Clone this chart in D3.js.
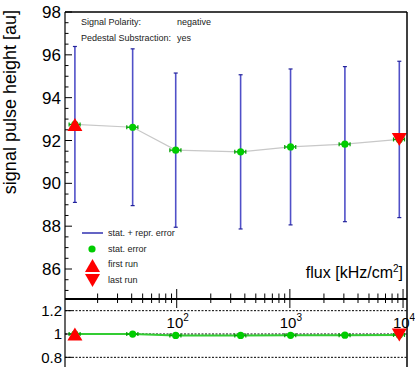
<!DOCTYPE html>
<html>
<head>
<meta charset="utf-8">
<script src="https://cdn.jsdelivr.net/npm/d3@7"></script>
<style>
  body { margin: 0; background: #fff; }
  text { font-family: "Liberation Sans", Arial, sans-serif; }
</style>
</head>
<body>
<div id="chart"></div>
<script>
// flux points and their (x) bin errors in kHz/cm2
var flux = [12.6, 40.8, 98, 367, 1014, 3064, 9270];
var fluxErr = [1.4, 4.6, 11, 41, 113, 340, 1030];
// signal pulse height and stat + repr. error
var pulse = [92.75, 92.62, 91.55, 91.47, 91.70, 91.83, 92.05];
var pulseErr = [3.64, 3.66, 3.60, 3.60, 3.64, 3.62, 3.65];
// ratio to the first run
var ratio = [1.0, 0.999, 0.988, 0.988, 0.989, 0.990, 0.992];
var ratioErr = [0.025, 0.025, 0.025, 0.025, 0.025, 0.025, 0.025];
var yTicks = [86, 88, 90, 92, 94, 96, 98];
var ratioTicks = [0.8, 1, 1.2];
var xMajor = [100, 1000, 10000];
var infoLabels = ["Signal Polarity:", "Pedestal Substraction:"];
var infoValues = ["negative", "yes"];

var width = 415, height = 367;
var padLeft = 65, padRight = 407, padTop = 12, mainBottom = 299;

var svg = d3.select("#chart").append("svg")
    .attr("width", width)
    .attr("height", height);

var x = d3.scaleLog().domain([10.3, 10840]).range([padLeft, padRight]);
var y = d3.scaleLinear().domain([84.6, 98]).range([mainBottom, padTop]);
var yr = d3.scaleLinear().domain([0.7, 1.3]).range([369, mainBottom]);

var blue = "#5050c8", green = "#00cc00", red = "#ff0000";

// ---- main pad ----
var main = svg.append("g");

// y axis with ticks pointing inwards
main.append("line").attr("x1", padLeft).attr("x2", padLeft).attr("y1", padTop).attr("y2", mainBottom)
    .attr("stroke", "#000").attr("stroke-width", 1.2);
d3.range(85, 98.01, 0.5).forEach(function (v) {
    var major = v % 2 === 0;
    main.append("line")
        .attr("x1", padLeft).attr("x2", padLeft + (major ? 7 : 3.5))
        .attr("y1", y(v)).attr("y2", y(v))
        .attr("stroke", "#000");
});
yTicks.forEach(function (v) {
    main.append("text").attr("x", 61).attr("y", y(v)).attr("dy", "0.36em")
        .attr("text-anchor", "end").style("font-size", "17px").text(v);
});

// frame
main.append("line").attr("x1", padLeft).attr("x2", padRight).attr("y1", padTop).attr("y2", padTop)
    .attr("stroke", "#000").attr("stroke-width", 1.5);
svg.append("line").attr("x1", padRight).attr("x2", padRight).attr("y1", padTop).attr("y2", height)
    .attr("stroke", "#000").attr("stroke-width", 1.5);

// y title
svg.append("text")
    .attr("transform", "translate(16," + (padTop - 2) + ") rotate(-90)")
    .attr("text-anchor", "end")
    .style("font-size", "18px")
    .text("signal pulse height [au]");

// info text
infoLabels.forEach(function (t, i) {
    main.append("text").attr("x", 81).attr("y", 25 + i * 15.5)
        .style("font-size", "9px").attr("fill", "#222").text(t);
    main.append("text").attr("x", 177).attr("y", 25 + i * 15.5)
        .style("font-size", "9px").attr("fill", "#222").text(infoValues[i]);
});

// connecting line
var line = d3.line().x(function (d, i) { return x(flux[i]); }).y(function (d) { return y(d); });
main.append("path").attr("d", line(pulse)).attr("fill", "none")
    .attr("stroke", "#c8c8c8").attr("stroke-width", 1.2);

// blue error bars
pulse.forEach(function (v, i) {
    var px = x(flux[i]);
    main.append("line").attr("x1", px).attr("x2", px)
        .attr("y1", y(v - pulseErr[i])).attr("y2", y(v + pulseErr[i]))
        .attr("stroke", blue).attr("stroke-width", 1.6);
    [v - pulseErr[i], v + pulseErr[i]].forEach(function (e) {
        main.append("line").attr("x1", px - 2).attr("x2", px + 2)
            .attr("y1", y(e)).attr("y2", y(e))
            .attr("stroke", "#22229a").attr("stroke-width", 1.2);
    });
});

// green points with x errors
function drawPoints(g, vals, ys) {
    vals.forEach(function (v, i) {
        var py = ys(v);
        var x0 = x(flux[i] - fluxErr[i]), x1 = x(flux[i] + fluxErr[i]);
        g.append("line").attr("x1", x0).attr("x2", x1).attr("y1", py).attr("y2", py)
            .attr("stroke", "#00a000").attr("stroke-width", 1.3);
        [x0, x1].forEach(function (xe) {
            g.append("line").attr("x1", xe).attr("x2", xe).attr("y1", py - 2).attr("y2", py + 2)
                .attr("stroke", "#00a000").attr("stroke-width", 1.2);
        });
        g.append("circle").attr("cx", x(flux[i])).attr("cy", py).attr("r", 3.6).attr("fill", green);
    });
}
drawPoints(main, pulse, y);

// triangles for first and last run
function upTri(cx, cy) {
    return "M" + cx + "," + (cy - 6.5) + "L" + (cx + 7.5) + "," + (cy + 6.5) + "L" + (cx - 7.5) + "," + (cy + 6.5) + "Z";
}
function downTri(cx, cy) {
    return "M" + cx + "," + (cy + 6.5) + "L" + (cx + 7.5) + "," + (cy - 6.5) + "L" + (cx - 7.5) + "," + (cy - 6.5) + "Z";
}
var n = flux.length - 1;
main.append("path").attr("d", upTri(x(flux[0]), y(pulse[0]))).attr("fill", red);
main.append("path").attr("d", downTri(x(flux[n]), y(pulse[n]))).attr("fill", red);

// legend
var leg = main.append("g");
leg.append("line").attr("x1", 82).attr("x2", 103).attr("y1", 233).attr("y2", 233)
    .attr("stroke", "#3030b0").attr("stroke-width", 1.5);
leg.append("circle").attr("cx", 92).attr("cy", 249).attr("r", 3.6).attr("fill", green);
leg.append("path").attr("d", upTri(92.5, 265.5)).attr("fill", red);
leg.append("path").attr("d", downTri(92.5, 280.5)).attr("fill", red);
[["stat. + repr. error", 236], ["stat. error", 252], ["first run", 267], ["last run", 283]].forEach(function (d) {
    leg.append("text").attr("x", 108).attr("y", d[1]).style("font-size", "9px")
        .attr("fill", "#222").text(d[0]);
});

// x title
var xt = main.append("text").attr("x", 403).attr("y", 278).attr("text-anchor", "end")
    .style("font-size", "16px");
xt.append("tspan").text("flux [kHz/cm");
xt.append("tspan").attr("dy", -6).style("font-size", "10px").text("2");
xt.append("tspan").attr("dy", 6).text("]");

// ---- x axis between pads ----
svg.append("line").attr("x1", padLeft).attr("x2", padRight).attr("y1", mainBottom).attr("y2", mainBottom)
    .attr("stroke", "#000").attr("stroke-width", 2.2);
[10, 100, 1000].forEach(function (dec) {
    d3.range(1, 10).forEach(function (k) {
        var v = dec * k;
        if (v < x.domain()[0] || v > x.domain()[1]) return;
        var major = k === 1;
        svg.append("line").attr("x1", x(v)).attr("x2", x(v))
            .attr("y1", mainBottom - (major ? 10 : 5.5)).attr("y2", mainBottom + (major ? 9 : 4))
            .attr("stroke", "#000").attr("stroke-width", 1);
    });
});
svg.append("line").attr("x1", x(10000)).attr("x2", x(10000))
    .attr("y1", mainBottom - 10).attr("y2", mainBottom + 9).attr("stroke", "#000");

// ---- ratio pad ----
var rp = svg.append("g");
rp.append("line").attr("x1", padLeft).attr("x2", padLeft).attr("y1", mainBottom).attr("y2", height)
    .attr("stroke", "#000").attr("stroke-width", 1.2);
ratioTicks.forEach(function (v) {
    rp.append("line").attr("x1", padLeft).attr("x2", padRight).attr("y1", yr(v)).attr("y2", yr(v))
        .attr("stroke", "#000").attr("stroke-width", 1).attr("stroke-dasharray", "2,1.5");
    rp.append("line").attr("x1", padLeft).attr("x2", padLeft + 7).attr("y1", yr(v)).attr("y2", yr(v))
        .attr("stroke", "#000");
    rp.append("text").attr("x", 62).attr("y", yr(v)).attr("dy", "0.36em")
        .attr("text-anchor", "end").style("font-size", "15px").text(v === 1 ? "1" : v.toFixed(1));
});
xMajor.forEach(function (v) {
    var t = rp.append("text").attr("x", x(v) + 1).attr("y", 328).attr("text-anchor", "middle")
        .style("font-size", "15px");
    t.append("tspan").text("10");
    t.append("tspan").attr("dy", -7).style("font-size", "10px").text(Math.round(Math.log10(v)));
});

var rline = d3.line().x(function (d, i) { return x(flux[i]); }).y(function (d) { return yr(d); });
rp.append("path").attr("d", rline(ratio)).attr("fill", "none")
    .attr("stroke", "#33cc33").attr("stroke-width", 2);
ratio.forEach(function (v, i) {
    var px = x(flux[i]);
    rp.append("line").attr("x1", px).attr("x2", px)
        .attr("y1", yr(v - ratioErr[i])).attr("y2", yr(v + ratioErr[i]))
        .attr("stroke", blue).attr("stroke-width", 1.6);
});
drawPoints(rp, ratio, yr);
rp.append("path").attr("d", upTri(x(flux[0]), yr(ratio[0]))).attr("fill", red);
rp.append("path").attr("d", downTri(x(flux[n]), yr(ratio[n]))).attr("fill", red);
</script>
</body>
</html>
